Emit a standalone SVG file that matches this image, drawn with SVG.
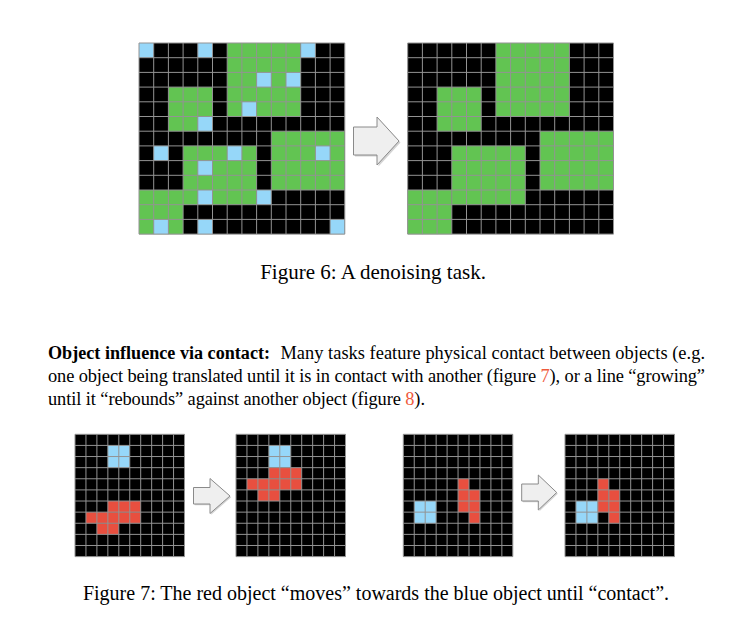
<svg xmlns="http://www.w3.org/2000/svg" xmlns:xlink="http://www.w3.org/1999/xlink" width="740" height="622" viewBox="0 0 740 622">
<style>
.bg{fill:#000}
.gr{fill:#62c452}
.bl{fill:#96d7f9}
.rd{fill:#e84f3f}
.gl{fill:none;stroke:#939393;stroke-width:1;vector-effect:non-scaling-stroke}
.arr{fill:#efefef;stroke:#8a8a8a;stroke-width:1}
.sh{fill:#b5b5b5;opacity:0.6}
.t{font-family:"Liberation Serif","Times New Roman",serif;fill:#000}
.lnk{fill:#ef5a3c}
</style>
<defs>
<path id="g14" class="gl" d="M0 0V13M1 0V13M2 0V13M3 0V13M4 0V13M5 0V13M6 0V13M7 0V13M8 0V13M9 0V13M10 0V13M11 0V13M12 0V13M13 0V13M14 0V13M0 0H14M0 1H14M0 2H14M0 3H14M0 4H14M0 5H14M0 6H14M0 7H14M0 8H14M0 9H14M0 10H14M0 11H14M0 12H14M0 13H14"/>
<path id="g10" class="gl" d="M0 0V11M1 0V11M2 0V11M3 0V11M4 0V11M5 0V11M6 0V11M7 0V11M8 0V11M9 0V11M10 0V11M0 0H10M0 1H10M0 2H10M0 3H10M0 4H10M0 5H10M0 6H10M0 7H10M0 8H10M0 9H10M0 10H10M0 11H10"/>
</defs>

<g id="grid-noisy" transform="translate(139,43) scale(14.7)">
<rect class="bg" width="14" height="13"/>
<rect class="gr" x="6" y="0" width="5" height="5"/>
<rect class="gr" x="2" y="3" width="3" height="3"/>
<rect class="gr" x="9" y="6" width="5" height="4"/>
<rect class="gr" x="3" y="7" width="5" height="4"/>
<rect class="gr" x="0" y="10" width="3" height="3"/>
<rect class="gr" x="3" y="10" width="1" height="1"/>
<g class="bl">
<rect x="0" y="0" width="1" height="1"/><rect x="4" y="0" width="1" height="1"/><rect x="11" y="0" width="1" height="1"/>
<rect x="8" y="2" width="1" height="1"/><rect x="10" y="2" width="1" height="1"/><rect x="7" y="4" width="1" height="1"/>
<rect x="4" y="5" width="1" height="1"/><rect x="1" y="7" width="1" height="1"/><rect x="6" y="7" width="1" height="1"/>
<rect x="12" y="7" width="1" height="1"/><rect x="4" y="8" width="1" height="1"/><rect x="4" y="10" width="1" height="1"/>
<rect x="8" y="10" width="1" height="1"/><rect x="1" y="12" width="1" height="1"/><rect x="4" y="12" width="1" height="1"/>
<rect x="13" y="12" width="1" height="1"/>
</g>
<use xlink:href="#g14"/>
</g>

<g id="grid-denoised" transform="translate(407.7,43) scale(14.7)">
<rect class="bg" width="14" height="13"/>
<rect class="gr" x="6" y="0" width="5" height="5"/>
<rect class="gr" x="2" y="3" width="3" height="3"/>
<rect class="gr" x="9" y="6" width="5" height="4"/>
<rect class="gr" x="3" y="7" width="5" height="4"/>
<rect class="gr" x="0" y="10" width="3" height="3"/>
<use xlink:href="#g14"/>
</g>

<g id="grid-a1" transform="translate(75,434.3) scale(10.95,11.12)">
<rect class="bg" width="10" height="11"/>
<rect class="bl" x="3" y="1" width="2" height="2"/>
<rect class="rd" x="3" y="6" width="3" height="1"/>
<rect class="rd" x="1" y="7" width="5" height="1"/>
<rect class="rd" x="2" y="8" width="2" height="1"/>
<use xlink:href="#g10"/>
</g>

<g id="grid-a2" transform="translate(236,434.3) scale(10.95,11.12)">
<rect class="bg" width="10" height="11"/>
<rect class="bl" x="3" y="1" width="2" height="2"/>
<rect class="rd" x="3" y="3" width="3" height="1"/>
<rect class="rd" x="1" y="4" width="5" height="1"/>
<rect class="rd" x="2" y="5" width="2" height="1"/>
<use xlink:href="#g10"/>
</g>

<g id="grid-b1" transform="translate(403.3,434.3) scale(10.95,11.12)">
<rect class="bg" width="10" height="11"/>
<rect class="bl" x="1" y="6" width="2" height="2"/>
<rect class="rd" x="5" y="4" width="1" height="3"/>
<rect class="rd" x="6" y="5" width="1" height="3"/>
<use xlink:href="#g10"/>
</g>

<g id="grid-b2" transform="translate(565,434.3) scale(10.95,11.12)">
<rect class="bg" width="10" height="11"/>
<rect class="bl" x="1" y="6" width="2" height="2"/>
<rect class="rd" x="3" y="4" width="1" height="3"/>
<rect class="rd" x="4" y="5" width="1" height="3"/>
<use xlink:href="#g10"/>
</g>

<g id="connectors">
<path class="sh" transform="translate(1.5,1.5)" d="M353.5 127H377V117L399 141L377 165V155H353.5Z"/>
<path class="arr" d="M353.5 127H377V117L399 141L377 165V155H353.5Z"/>
<path class="sh" transform="translate(1.2,1.2)" d="M193.5 487.5H210V478.5L230 496L210 513.5V504H193.5Z"/>
<path class="arr" d="M193.5 487.5H210V478.5L230 496L210 513.5V504H193.5Z"/>
<path class="sh" transform="translate(1.2,1.2)" d="M521.7 484H538.3V475L556.7 492.5L538.3 510V501H521.7Z"/>
<path class="arr" d="M521.7 484H538.3V475L556.7 492.5L538.3 510V501H521.7Z"/>
</g>

<g id="captions">
<text class="t" x="373" y="279" font-size="21" text-anchor="middle">Figure 6: A denoising task.</text>
<text class="t" x="48" y="358.5" font-size="18.4" font-weight="bold" textLength="222" lengthAdjust="spacingAndGlyphs">Object influence via contact:</text>
<text class="t" x="280.5" y="358.5" font-size="18.4" textLength="424.5" lengthAdjust="spacing">Many tasks feature physical contact between objects (e.g.</text>
<text class="t" x="48" y="381.8" font-size="18.4" textLength="657" lengthAdjust="spacing">one object being translated until it is in contact with another (figure <tspan class="lnk">7</tspan>), or a line “growing”</text>
<text class="t" x="48" y="405" font-size="18.4" textLength="377" lengthAdjust="spacing">until it “rebounds” against another object (figure <tspan class="lnk">8</tspan>).</text>
<text class="t" x="376" y="600" font-size="20" text-anchor="middle">Figure 7: The red object “moves” towards the blue object until “contact”.</text>
</g>
</svg>
